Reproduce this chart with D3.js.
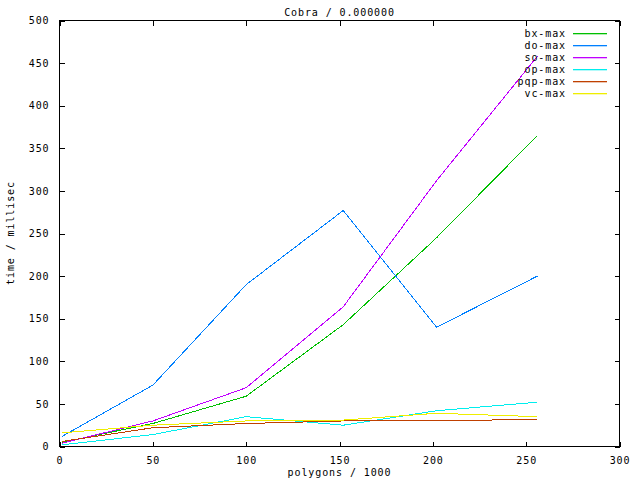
<!DOCTYPE html>
<html><head><meta charset="utf-8">
<script src="https://cdn.jsdelivr.net/npm/d3@7"></script>
<style>body{margin:0;background:#fff}svg{display:block}text{font-family:"DejaVu Sans Mono",monospace;font-size:10px;letter-spacing:0.9px;fill:#000}</style>
</head><body>
<script>
const xValues = [1.5, 50, 100, 152, 202, 256];
const seriesNames = ["bx-max", "do-max", "so-max", "op-max", "pqp-max", "vc-max"];
const bxMax  = [5, 27, 59, 143, 245, 365];
const doMax  = [12, 72, 190, 277, 140, 200];
const soMax  = [4, 30, 69, 164, 312, 458];
const opMax  = [2, 14, 35, 25, 42, 52];
const pqpMax = [6, 22, 27, 30, 30, 32];
const vcMax  = [16, 25, 30, 31, 39, 35];
const xTicks = [0, 50, 100, 150, 200, 250, 300];
const yTicks = [0, 50, 100, 150, 200, 250, 300, 350, 400, 450, 500];
const colors = ["#00c000", "#0080ff", "#c000ff", "#00eeee", "#c04000", "#eeee00"];
const allSeries = [bxMax, doMax, soMax, opMax, pqpMax, vcMax];

const W = 640, H = 480;
const L = 59.5, R = 619.5, T = 20.5, B = 446.5;
const svg = d3.select("body").append("svg").attr("width", W).attr("height", H);
const x = d3.scaleLinear().domain([0, 300]).range([L, R]);
const y = d3.scaleLinear().domain([0, 500]).range([B, T]);

const gx = svg.append("g").attr("transform", `translate(0,${B})`)
  .call(d3.axisBottom(x).tickValues(xTicks).tickSize(-5).tickPadding(10).tickFormat(d3.format("d")));
const gxt = svg.append("g").attr("transform", `translate(0,${T})`)
  .call(d3.axisTop(x).tickValues(xTicks).tickSize(-5).tickFormat(""));
const gy = svg.append("g").attr("transform", `translate(${L},0)`)
  .call(d3.axisLeft(y).tickValues(yTicks).tickSize(-5).tickPadding(10).tickFormat(d3.format("d")));
const gyr = svg.append("g").attr("transform", `translate(${R},0)`)
  .call(d3.axisRight(y).tickValues(yTicks).tickSize(-5).tickFormat(""));
[gx, gxt, gy, gyr].forEach(g => {
  g.select(".domain").remove();
  g.selectAll("line").attr("stroke", "#000").attr("shape-rendering", "crispEdges");
  g.selectAll("text").style("font-family", '"DejaVu Sans Mono",monospace').style("font-size", "10px")
    .style("letter-spacing", "0.9px").attr("fill", "#000");
});
gx.selectAll("text").attr("dy", "0.71em");
svg.append("rect").attr("x", L).attr("y", T).attr("width", R - L).attr("height", B - T)
  .attr("fill", "none").attr("stroke", "#000").attr("shape-rendering", "crispEdges");

const line = d3.line().x((d, i) => x(xValues[i])).y(d => y(d));
allSeries.forEach((s, k) => {
  svg.append("path").datum(s).attr("d", line).attr("fill", "none")
    .attr("stroke", colors[k]).attr("stroke-width", 1).attr("shape-rendering", "crispEdges");
});

seriesNames.forEach((n, k) => {
  const yy = 33 + k * 12;
  svg.append("text").attr("x", 566).attr("y", yy).attr("dy", "0.35em").attr("text-anchor", "end").text(n);
  svg.append("rect").attr("x", 573).attr("y", yy).attr("width", 34).attr("height", 1.3)
    .attr("fill", colors[k]);
});

svg.append("text").attr("x", 339.5).attr("y", 12).attr("dy", "0.35em").attr("text-anchor", "middle").text("Cobra / 0.000000");
svg.append("text").attr("x", 339.5).attr("y", 472).attr("dy", "0.35em").attr("text-anchor", "middle").text("polygons / 1000");
svg.append("text").attr("transform", "translate(10,233) rotate(-90)").attr("dy", "0.35em").attr("text-anchor", "middle").text("time / millisec");
</script>
</body></html>
